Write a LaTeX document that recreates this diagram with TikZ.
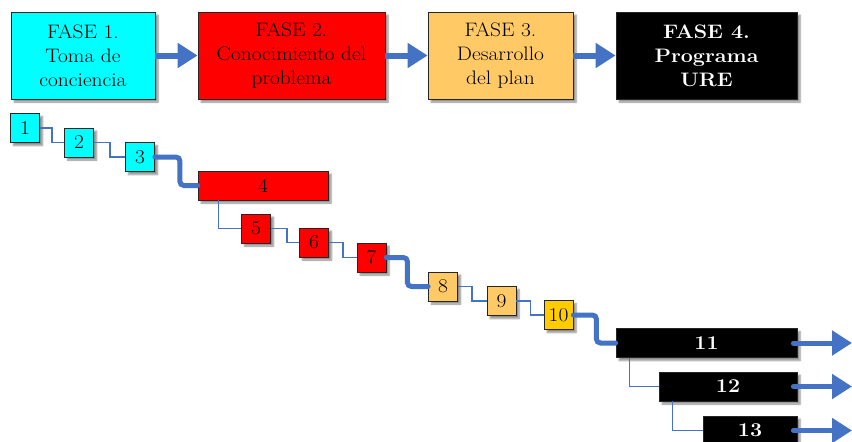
\documentclass[tikz,border=0pt]{standalone}
\usepackage{fontspec}
\setmainfont{Latin Modern Roman}[FakeStretch=1.1]
\usetikzlibrary{arrows.meta,shadows.blur,positioning}
\definecolor{flowblue}{HTML}{4472C4}
\definecolor{phasecyan}{HTML}{00FFFF}
\definecolor{phasered}{HTML}{FF0000}
\definecolor{phaseorange}{HTML}{FFC966}
\definecolor{phasegold}{HTML}{FFCC00}
\definecolor{edgegrey}{HTML}{262626}
\tikzset{
  phasebox/.style={draw=edgegrey, line width=0.8pt, minimum width=#1, minimum height=87pt,
    inner sep=0pt, align=center, font=\fontsize{19.5}{24}\selectfont,
    blur shadow={shadow xshift=3pt, shadow yshift=-3pt, shadow blur steps=6, shadow opacity=45}},
  taskbox/.style={draw=edgegrey, line width=0.8pt, minimum width=#1, minimum height=29pt,
    inner sep=0pt, font=\fontsize{19.5}{22}\selectfont,
    blur shadow={shadow xshift=3pt, shadow yshift=-3pt, shadow blur steps=6, shadow opacity=45}},
  darkbox/.style={fill=black, text=white, font=\fontsize{19.5}{24}\selectfont\bfseries},
  phasearrow/.style={draw=flowblue, line width=6pt, -{Triangle[width=24pt,length=20pt]}},
  thinlink/.style={draw=flowblue, line width=1.5pt},
  thicklink/.style={draw=flowblue, line width=5pt, rounded corners=4pt, line cap=round},
}
\begin{document}
\begin{tikzpicture}[x=1pt, y={(0pt,-1pt)}]
\useasboundingbox (0,0) rectangle (852,442);

% phase headers
\node[phasebox=144pt, fill=phasecyan] (f1) at (83,55.5) {FASE 1.\\Toma de\\conciencia};
\node[phasebox=187pt, fill=phasered] (f2) at (291.5,55.5) {FASE 2.\\Conocimiento del\\problema};
\node[phasebox=145pt, fill=phaseorange] (f3) at (500.5,55.5) {FASE 3.\\Desarrollo\\del plan};
\node[phasebox=181pt, darkbox] (f4) at (706.5,55.5) {FASE 4.\\Programa\\URE};

\draw[phasearrow] (f1.east) -- (f2.west);
\draw[phasearrow] (f2.east) -- (f3.west);
\draw[phasearrow] (f3.east) -- (f4.west);

% tasks
\node[taskbox=29pt, fill=phasecyan] (t1) at (25,128) {1};
\node[taskbox=29pt, fill=phasecyan] (t2) at (79,142.5) {2};
\node[taskbox=29pt, fill=phasecyan] (t3) at (140,157) {3};
\node[taskbox=130pt, fill=phasered] (t4) at (263,185.5) {4};
\node[taskbox=29pt, fill=phasered] (t5) at (256,228.5) {5};
\node[taskbox=29pt, fill=phasered] (t6) at (314,242.5) {6};
\node[taskbox=29pt, fill=phasered] (t7) at (371.5,257.5) {7};
\node[taskbox=29pt, fill=phaseorange] (t8) at (443,286.5) {8};
\node[taskbox=29pt, fill=phaseorange] (t9) at (501.5,301) {9};
\node[taskbox=29pt, fill=phasegold] (t10) at (558.5,315) {10};
\node[taskbox=181pt, darkbox] (t11) at (706.5,343) {11};
\node[taskbox=138pt, darkbox] (t12) at (728,386.5) {12};
\node[taskbox=94pt, darkbox] (t13) at (750,430.5) {13};

% links between tasks
\draw[thinlink] (t1.east) -- ++(12,0) |- (t2.west);
\draw[thinlink] (t2.east) -- ++(16,0) |- (t3.west);
\draw[thicklink] (t3.east) -- ++(25,0) |- (t4.west);
\draw[thinlink] ([xshift=21pt]t4.south west) |- (t5.west);
\draw[thinlink] (t5.east) -- ++(16,0) |- (t6.west);
\draw[thinlink] (t6.east) -- ++(14,0) |- (t7.west);
\draw[thicklink] (t7.east) -- ++(21,0) |- (t8.west);
\draw[thinlink] (t8.east) -- ++(14,0) |- (t9.west);
\draw[thinlink] (t9.east) -- ++(14,0) |- (t10.west);
\draw[thicklink] (t10.east) -- ++(23,0) |- (t11.west);
\draw[thinlink] ([xshift=14pt]t11.south west) |- (t12.west);
\draw[thinlink] ([xshift=14pt]t12.south west) |- (t13.west);

% outgoing arrows
\coordinate (o11) at (852,343);
\coordinate (o12) at (852,386.5);
\coordinate (o13) at (852,430.5);
\draw[phasearrow, line width=5pt, line cap=round] ([xshift=-4pt]t11.east) -- (o11);
\draw[phasearrow, line width=5pt, line cap=round] ([xshift=-4pt]t12.east) -- (o12);
\draw[phasearrow, line width=5pt, line cap=round] ([xshift=-4pt]t13.east) -- (o13);
\end{tikzpicture}
\end{document}
